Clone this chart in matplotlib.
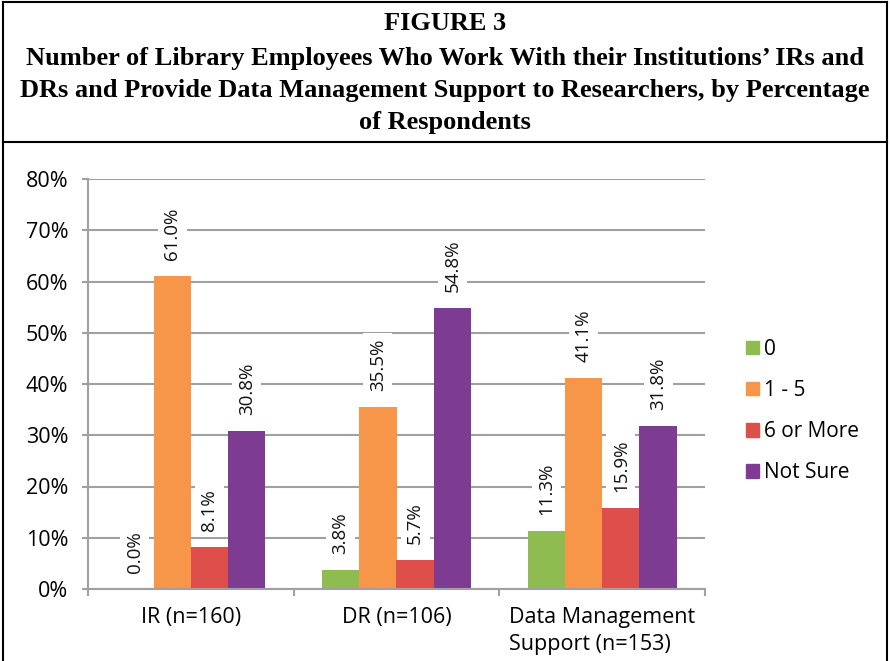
import matplotlib
matplotlib.use("Agg")
import matplotlib.pyplot as plt
import numpy as np
from matplotlib.lines import Line2D
from matplotlib.patches import Patch

categories = ["IR (n=160)", "DR (n=106)", "Data Management\nSupport (n=153)"]
series_names = ["0", "1 - 5", "6 or More", "Not Sure"]
vals_zero = [0.0, 3.8, 11.3]
vals_one_five = [61.0, 35.5, 41.1]
vals_six_more = [8.1, 5.7, 15.9]
vals_not_sure = [30.8, 54.8, 31.8]
colors = ["#8FBC50", "#F79548", "#DE4F4B", "#7D3C92"]
y_ticks = [0, 10, 20, 30, 40, 50, 60, 70, 80]

title_lines = ["FIGURE 3",
               "Number of Library Employees Who Work With their Institutions\u2019 IRs and",
               "DRs and Provide Data Management Support to Researchers, by Percentage",
               "of Respondents"]

plt.rcParams['font.family'] = ['Open Sans', 'DejaVu Sans']

W, H = 890, 661
fig = plt.figure(figsize=(W / 100, H / 100), dpi=100)
ax = fig.add_axes([88 / W, 1 - 589 / H, 617 / W, 410 / H])

series = [vals_zero, vals_one_five, vals_six_more, vals_not_sure]
x = np.arange(len(categories))
w = 0.1815
grid_c = "#A0A0A4"
for i, (vals, name) in enumerate(zip(series, series_names)):
    pos = x + (i - 1.5) * w
    ax.bar(pos, vals, width=w, color=colors[i], label=name, zorder=2)
    for px, v in zip(pos, vals):
        ax.annotate(f"{v:.1f}%", (px, v), xytext=(0, 16), textcoords="offset pixels",
                    rotation=90, ha="center", va="bottom", fontsize=13.5, color="#111111",
                    zorder=4,
                    bbox=dict(boxstyle="square,pad=0.3", fc="white", ec="none"))

ax.set_xlim(-0.5, 2.5)
ax.set_ylim(0, 80)
ax.set_yticks(y_ticks)
ax.set_yticklabels([f"{t}%" for t in y_ticks], fontsize=15.5)
ax.yaxis.grid(True, color=grid_c, linewidth=1.5, zorder=0)
ax.set_axisbelow(True)
ax.tick_params(axis="y", length=4.3, color=grid_c, width=1.5, pad=10)

ax.set_xticks(x)
ax.set_xticklabels(categories, fontsize=15.5, linespacing=1.4)
for lab in ax.get_xticklabels():
    lab.set_multialignment("left")
ax.set_xticks([-0.5, 0.5, 1.5, 2.5], minor=True)
ax.tick_params(axis="x", which="major", length=0, pad=13)
ax.tick_params(axis="x", which="minor", length=5, color=grid_c, width=1.5)

for s in ["top", "right"]:
    ax.spines[s].set_visible(False)
for s in ["left", "bottom"]:
    ax.spines[s].set_color(grid_c)
    ax.spines[s].set_linewidth(1.5)

handles = [Patch(color=c) for c in colors]
fig.legend(handles, series_names, loc="center left", bbox_to_anchor=(738 / W, 1 - 411 / H),
           frameon=False, fontsize=15, handlelength=0.62, handleheight=0.62,
           handletextpad=0.25, labelspacing=0.97, borderaxespad=0)

title_y = [24, 59, 91, 123]
for t, yy in zip(title_lines, title_y):
    fig.text(0.5, 1 - yy / H, t, ha="center", va="center", fontsize=19,
             fontweight="bold", family="Liberation Serif")

lw = 1.5
fig.add_artist(Line2D([3 / W, 887 / W], [1 - 2 / H, 1 - 2 / H], color="black", lw=lw))
fig.add_artist(Line2D([3 / W, 887 / W], [1 - 142 / H, 1 - 142 / H], color="black", lw=lw))
fig.add_artist(Line2D([3 / W, 3 / W], [0, 1 - 2 / H], color="black", lw=lw))
fig.add_artist(Line2D([887 / W, 887 / W], [0, 1 - 2 / H], color="black", lw=lw))

fig.savefig("out.png", dpi=100)
